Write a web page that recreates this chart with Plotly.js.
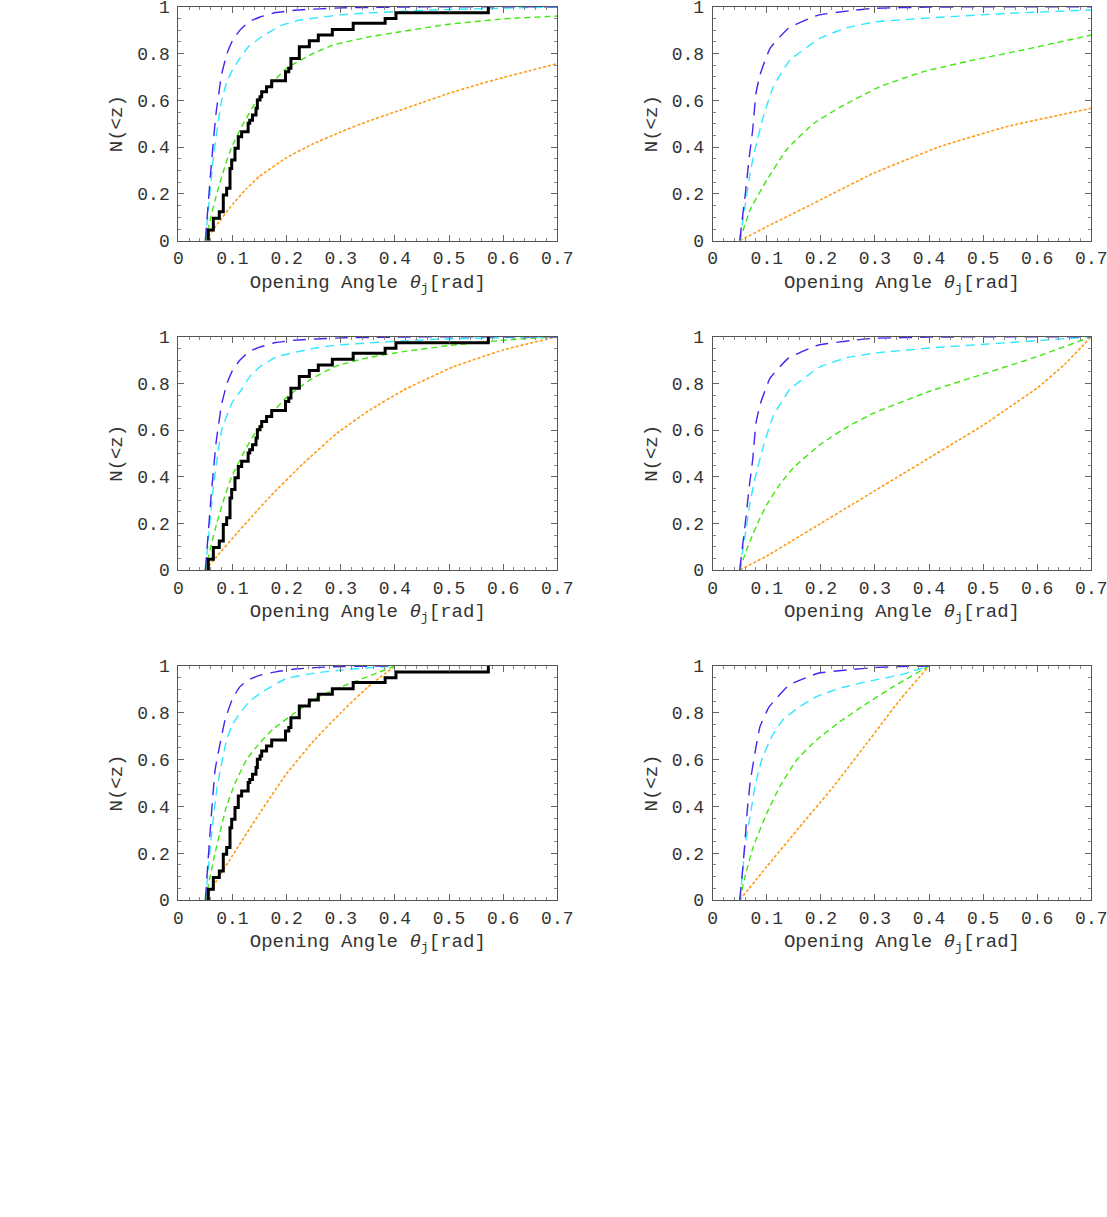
<!DOCTYPE html>
<html>
<head>
<meta charset="utf-8">
<script src="https://cdn.plot.ly/plotly-3.0.1.min.js"></script>
<style>html,body{margin:0;padding:0;background:#fff;}#chart{width:1107px;height:1217px;}</style>
</head>
<body>
<div id="chart"></div>
<script>
// ---- tick labels ----
const xTickVals = [0, 0.1, 0.2, 0.3, 0.4, 0.5, 0.6, 0.7];
const xTickText = ["0", "0.1", "0.2", "0.3", "0.4", "0.5", "0.6", "0.7"];
const yTickVals = [0, 0.2, 0.4, 0.6, 0.8, 1];
const yTickText = ["0", "0.2", "0.4", "0.6", "0.8", "1"];
const xTitle = "Opening Angle <i>θ</i><sub>j</sub>[rad]";
const yTitle = "N(&lt;z)";

// ---- observed cumulative distribution (black step line, left panels) ----
const obsX = [0.0554, 0.0554, 0.0647, 0.0757, 0.0831, 0.0893, 0.0955, 0.0986, 0.1047, 0.1108, 0.117, 0.129, 0.132, 0.137, 0.1435, 0.146, 0.151, 0.154, 0.163, 0.1725, 0.198, 0.204, 0.208, 0.2235, 0.242, 0.2586, 0.2845, 0.323, 0.382, 0.402, 0.5726];
const obsY = [0, 0.046, 0.096, 0.124, 0.195, 0.224, 0.309, 0.345, 0.395, 0.444, 0.466, 0.502, 0.515, 0.537, 0.566, 0.601, 0.615, 0.637, 0.658, 0.684, 0.722, 0.737, 0.779, 0.829, 0.855, 0.879, 0.903, 0.929, 0.950, 0.974, 1.0];

// ---- panel 1 (top left) ----
const p1BlueX = [0.05, 0.055, 0.06, 0.065, 0.07, 0.08, 0.09, 0.1, 0.114, 0.13, 0.15, 0.18, 0.22, 0.3, 0.4, 0.5, 0.7];
const p1BlueY = [0, 0.15, 0.3, 0.43, 0.55, 0.71, 0.8, 0.855, 0.9, 0.935, 0.955, 0.975, 0.986, 0.995, 0.998, 1, 1];
const p1CyanX = [0.05, 0.055, 0.065, 0.08, 0.09, 0.1, 0.114, 0.13, 0.15, 0.19, 0.225, 0.3, 0.34, 0.47, 0.6, 0.7];
const p1CyanY = [0, 0.12, 0.36, 0.6, 0.68, 0.73, 0.78, 0.83, 0.865, 0.92, 0.943, 0.965, 0.972, 0.986, 0.994, 0.998];
const p1GreenX = [0.05, 0.06, 0.071, 0.085, 0.0986, 0.12, 0.145, 0.1755, 0.2, 0.249, 0.286, 0.35, 0.41, 0.5, 0.6, 0.7];
const p1GreenY = [0, 0.1, 0.2, 0.31, 0.4, 0.5, 0.6, 0.68, 0.737, 0.8, 0.836, 0.87, 0.893, 0.925, 0.948, 0.96];
const p1OrangeX = [0.05, 0.075, 0.1, 0.125, 0.15, 0.2, 0.25, 0.3, 0.35, 0.4, 0.45, 0.5, 0.55, 0.6, 0.65, 0.7];
const p1OrangeY = [0, 0.08, 0.155, 0.22, 0.275, 0.355, 0.415, 0.465, 0.51, 0.55, 0.59, 0.63, 0.665, 0.697, 0.727, 0.757];

// ---- panel 2 (middle left) ----
const p2BlueX = [0.05, 0.055, 0.06, 0.065, 0.07, 0.08, 0.09, 0.1, 0.114, 0.13, 0.15, 0.18, 0.22, 0.3, 0.4, 0.5, 0.7];
const p2BlueY = [0, 0.15, 0.3, 0.43, 0.55, 0.71, 0.8, 0.855, 0.9, 0.935, 0.955, 0.975, 0.986, 0.995, 0.998, 1, 1];
const p2CyanX = [0.05, 0.055, 0.065, 0.08, 0.1, 0.114, 0.132, 0.151, 0.182, 0.25, 0.293, 0.4, 0.477, 0.6, 0.7];
const p2CyanY = [0, 0.12, 0.36, 0.6, 0.72, 0.764, 0.829, 0.871, 0.914, 0.95, 0.964, 0.98, 0.989, 0.996, 1];
const p2GreenX = [0.05, 0.06, 0.071, 0.085, 0.0986, 0.12, 0.145, 0.1755, 0.2, 0.243, 0.293, 0.35, 0.416, 0.5, 0.6, 0.7];
const p2GreenY = [0, 0.1, 0.2, 0.31, 0.4, 0.5, 0.6, 0.68, 0.74, 0.815, 0.875, 0.91, 0.936, 0.962, 0.985, 1.0];
const p2OrangeX = [0.05, 0.07, 0.108, 0.169, 0.231, 0.293, 0.354, 0.416, 0.508, 0.6, 0.7];
const p2OrangeY = [0, 0.055, 0.157, 0.314, 0.457, 0.586, 0.686, 0.771, 0.871, 0.943, 1.0];

// ---- panel 3 (bottom left) ----
const p3BlueX = [0.05, 0.055, 0.06, 0.068, 0.0863, 0.1, 0.114, 0.129, 0.15, 0.182, 0.22, 0.286, 0.35, 0.4];
const p3BlueY = [0, 0.17, 0.33, 0.556, 0.769, 0.86, 0.912, 0.94, 0.96, 0.976, 0.988, 0.997, 0.999, 1];
const p3CyanX = [0.05, 0.055, 0.06, 0.071, 0.089, 0.1, 0.114, 0.13, 0.151, 0.2, 0.256, 0.317, 0.36, 0.4];
const p3CyanY = [0, 0.12, 0.25, 0.47, 0.684, 0.75, 0.798, 0.845, 0.883, 0.947, 0.971, 0.986, 0.994, 1];
const p3GreenX = [0.05, 0.0678, 0.089, 0.105, 0.126, 0.15, 0.175, 0.2155, 0.256, 0.3, 0.35, 0.4];
const p3GreenY = [0, 0.2, 0.4, 0.5, 0.6, 0.67, 0.73, 0.8, 0.865, 0.91, 0.955, 1];
const p3OrangeX = [0.05, 0.07, 0.1, 0.15, 0.2, 0.25, 0.3, 0.35, 0.4];
const p3OrangeY = [0, 0.08, 0.19, 0.37, 0.54, 0.68, 0.8, 0.91, 1];

// ---- panel 4 (top right) ----
const p4BlueX = [0.05, 0.055, 0.0597, 0.0677, 0.0739, 0.08, 0.0874, 0.106, 0.14, 0.195, 0.254, 0.297, 0.4, 0.5, 0.7];
const p4BlueY = [0, 0.1, 0.188, 0.359, 0.473, 0.63, 0.708, 0.822, 0.908, 0.964, 0.983, 0.993, 0.998, 1, 1];
const p4CyanX = [0.05, 0.0597, 0.069, 0.078, 0.0936, 0.112, 0.143, 0.198, 0.248, 0.3, 0.42, 0.55, 0.7];
const p4CyanY = [0, 0.145, 0.288, 0.388, 0.53, 0.658, 0.772, 0.865, 0.91, 0.935, 0.955, 0.972, 0.986];
const p4GreenX = [0.05, 0.069, 0.0998, 0.137, 0.186, 0.235, 0.309, 0.389, 0.482, 0.574, 0.7];
const p4GreenY = [0, 0.131, 0.259, 0.39, 0.5, 0.57, 0.658, 0.722, 0.772, 0.815, 0.879];
const p4OrangeX = [0.05, 0.1, 0.174, 0.297, 0.42, 0.543, 0.7];
const p4OrangeY = [0, 0.06, 0.145, 0.288, 0.402, 0.487, 0.566];

// ---- panel 5 (middle right) ----
const p5BlueX = [0.05, 0.055, 0.0597, 0.0677, 0.0739, 0.08, 0.0874, 0.106, 0.14, 0.195, 0.254, 0.297, 0.4, 0.5, 0.7];
const p5BlueY = [0, 0.1, 0.188, 0.359, 0.473, 0.63, 0.708, 0.822, 0.908, 0.964, 0.983, 0.993, 0.998, 1, 1];
const p5CyanX = [0.05, 0.0597, 0.069, 0.078, 0.0936, 0.112, 0.143, 0.198, 0.248, 0.3, 0.42, 0.55, 0.7];
const p5CyanY = [0, 0.145, 0.288, 0.39, 0.53, 0.66, 0.775, 0.87, 0.91, 0.93, 0.955, 0.975, 1];
const p5GreenX = [0.05, 0.06, 0.07, 0.085, 0.1, 0.125, 0.15, 0.2, 0.25, 0.3, 0.4, 0.5, 0.6, 0.7];
const p5GreenY = [0, 0.07, 0.13, 0.21, 0.28, 0.37, 0.44, 0.54, 0.615, 0.675, 0.765, 0.84, 0.915, 1.0];
const p5OrangeX = [0.05, 0.1, 0.15, 0.2, 0.25, 0.3, 0.35, 0.4, 0.45, 0.5, 0.55, 0.6, 0.65, 0.7];
const p5OrangeY = [0, 0.06, 0.13, 0.2, 0.27, 0.34, 0.41, 0.48, 0.55, 0.62, 0.7, 0.78, 0.88, 1.0];

// ---- panel 6 (bottom right) ----
const p6BlueX = [0.05, 0.055, 0.06, 0.064, 0.069, 0.078, 0.0874, 0.1046, 0.1416, 0.195, 0.248, 0.304, 0.35, 0.4];
const p6BlueY = [0, 0.12, 0.26, 0.385, 0.499, 0.627, 0.741, 0.826, 0.919, 0.969, 0.983, 0.994, 0.998, 1];
const p6CyanX = [0.05, 0.055, 0.0597, 0.069, 0.078, 0.0906, 0.109, 0.1305, 0.161, 0.192, 0.235, 0.285, 0.346, 0.4];
const p6CyanY = [0, 0.11, 0.228, 0.356, 0.484, 0.598, 0.698, 0.772, 0.826, 0.869, 0.905, 0.933, 0.962, 1];
const p6GreenX = [0.05, 0.0597, 0.075, 0.0998, 0.124, 0.155, 0.192, 0.235, 0.285, 0.334, 0.4];
const p6GreenY = [0, 0.1, 0.228, 0.37, 0.484, 0.598, 0.684, 0.762, 0.84, 0.912, 1];
const p6OrangeX = [0.05, 0.0998, 0.161, 0.223, 0.285, 0.346, 0.4];
const p6OrangeY = [0, 0.142, 0.313, 0.484, 0.67, 0.855, 1];

// ---- styles ----
const W = 1107, H = 1217;
const colX = [[178.3, 557.3], [712.7, 1091.3]];
const rowY = [[6.7, 240.7], [336.7, 570], [666, 900]];
const curveStyles = {
  blue:   {color: "#4424ee", dash: "13px,8px", width: 1.4},
  cyan:   {color: "#2ee8ff", dash: "9px,6px", width: 1.4},
  green:  {color: "#3fe810", dash: "6px,4px", width: 1.4},
  orange: {color: "#ff9a12", dash: "3px,2px", width: 1.6}
};

const panels = [
  {row: 0, col: 0, obs: true,  blue: [p1BlueX, p1BlueY], cyan: [p1CyanX, p1CyanY], green: [p1GreenX, p1GreenY], orange: [p1OrangeX, p1OrangeY]},
  {row: 0, col: 1, obs: false, blue: [p4BlueX, p4BlueY], cyan: [p4CyanX, p4CyanY], green: [p4GreenX, p4GreenY], orange: [p4OrangeX, p4OrangeY]},
  {row: 1, col: 0, obs: true,  blue: [p2BlueX, p2BlueY], cyan: [p2CyanX, p2CyanY], green: [p2GreenX, p2GreenY], orange: [p2OrangeX, p2OrangeY]},
  {row: 1, col: 1, obs: false, blue: [p5BlueX, p5BlueY], cyan: [p5CyanX, p5CyanY], green: [p5GreenX, p5GreenY], orange: [p5OrangeX, p5OrangeY]},
  {row: 2, col: 0, obs: true,  blue: [p3BlueX, p3BlueY], cyan: [p3CyanX, p3CyanY], green: [p3GreenX, p3GreenY], orange: [p3OrangeX, p3OrangeY]},
  {row: 2, col: 1, obs: false, blue: [p6BlueX, p6BlueY], cyan: [p6CyanX, p6CyanY], green: [p6GreenX, p6GreenY], orange: [p6OrangeX, p6OrangeY]}
];

const tickFont = {family: "Liberation Mono, Courier New, monospace", size: 18, color: "#333"};
const titleFont = {family: "Liberation Mono, Courier New, monospace", size: 19, color: "#333"};

const traces = [];
const layout = {
  width: W, height: H,
  margin: {l: 0, r: 0, t: 0, b: 0},
  paper_bgcolor: "#ffffff",
  plot_bgcolor: "#ffffff",
  showlegend: false
};

panels.forEach((p, i) => {
  const n = i + 1;
  const xa = n === 1 ? "x" : "x" + n;
  const ya = n === 1 ? "y" : "y" + n;
  ["orange", "green", "cyan", "blue"].forEach(k => {
    const s = curveStyles[k];
    traces.push({
      type: "scatter", mode: "lines", x: p[k][0], y: p[k][1],
      xaxis: xa, yaxis: ya, hoverinfo: "skip",
      line: {color: s.color, dash: s.dash, width: s.width, shape: "spline", smoothing: 0.35}
    });
  });
  if (p.obs) {
    traces.push({
      type: "scatter", mode: "lines", x: obsX, y: obsY,
      xaxis: xa, yaxis: ya, hoverinfo: "skip",
      line: {color: "#000", width: 3, shape: "hv"}
    });
  }
  const cx = colX[p.col], ry = rowY[p.row];
  const axCommon = {
    showline: true, mirror: "allticks", linecolor: "#555", linewidth: 1,
    ticks: "inside", ticklen: 6, tickcolor: "#666", tickwidth: 1,
    showgrid: false, zeroline: false, tickfont: tickFont, fixedrange: true,
    ticklabeloverflow: "allow"
  };
  layout["xaxis" + (n === 1 ? "" : n)] = Object.assign({}, axCommon, {
    domain: [cx[0] / W, cx[1] / W], anchor: ya, range: [0, 0.7],
    tickmode: "array", tickvals: xTickVals, ticktext: xTickText,
    minor: {dtick: 0.02, tick0: 0, ticks: "inside", ticklen: 3, tickcolor: "#888", showgrid: false},
    ticklabelstandoff: 1,
    title: {text: xTitle, font: titleFont, standoff: 6}
  });
  layout["yaxis" + (n === 1 ? "" : n)] = Object.assign({}, axCommon, {
    domain: [1 - ry[1] / H, 1 - ry[0] / H], anchor: xa, range: [0, 1],
    tickmode: "array", tickvals: yTickVals, ticktext: yTickText,
    minor: {dtick: 0.05, tick0: 0, ticks: "inside", ticklen: 3, tickcolor: "#888", showgrid: false},
    ticklabelstandoff: 4,
    title: {text: yTitle, font: titleFont, standoff: 9}
  });
});

Plotly.newPlot("chart", traces, layout, {displayModeBar: false, staticPlot: true});
</script>
</body>
</html>
